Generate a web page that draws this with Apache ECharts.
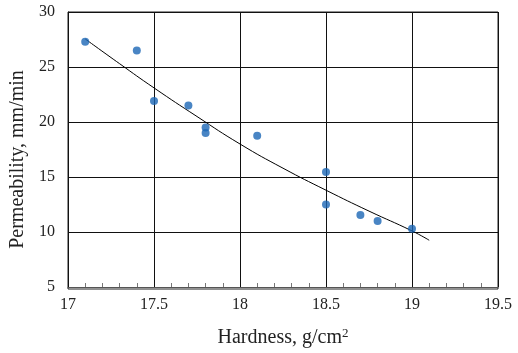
<!DOCTYPE html>
<html>
<head>
<meta charset="utf-8">
<script src="https://cdn.jsdelivr.net/npm/echarts@6/dist/echarts.min.js"></script>
<style>html,body{margin:0;padding:0;background:#fff}#c{width:518px;height:353px}</style>
</head>
<body>
<div id="c"></div>
<script>
var hardness = [17.1, 17.4, 17.5, 17.7, 17.8, 17.8, 18.1, 18.5, 18.5, 18.7, 18.8, 19.0];
var permeability = [27.3, 26.5, 21.9, 21.5, 19.5, 19.0, 18.75, 15.45, 12.5, 11.55, 11.0, 10.3];
var trendX = [17.1, 17.3, 17.5, 17.75, 18.0, 18.25, 18.5, 18.75, 19.0, 19.1];
var trendY = [27.55, 25.3, 23.1, 20.5, 18.0, 15.8, 13.8, 11.9, 10.1, 9.25];
var xTicks = [17, 17.5, 18, 18.5, 19, 19.5];
var yTicks = [5, 10, 15, 20, 25, 30];

var font = '"Liberation Serif", "Times New Roman", serif';
var chart = echarts.init(document.getElementById('c'), null, {renderer: 'canvas'});
chart.setOption({
  animation: false,
  backgroundColor: '#fff',
  grid: {left: 68, right: 20, top: 12, bottom: 64, containLabel: false},
  xAxis: {
    type: 'value', min: xTicks[0], max: xTicks[xTicks.length - 1], interval: 0.5,
    name: '{a|Hardness, g/cm}{s|2}', nameLocation: 'middle', nameGap: 40,
    nameTextStyle: {
      fontFamily: font, fontSize: 20, color: '#222',
      rich: {
        a: {fontFamily: font, fontSize: 20, color: '#222'},
        s: {fontFamily: font, fontSize: 13, color: '#222', padding: [0, 0, 9, 0]}
      }
    },
    axisLine: {show: true, lineStyle: {color: '#555', width: 1}},
    axisTick: {show: false},
    minorTick: {show: true, splitNumber: 5, length: -4, lineStyle: {color: '#777'}},
    splitLine: {show: true, lineStyle: {color: '#111', width: 1}},
    axisLabel: {fontFamily: font, fontSize: 16, color: '#222', margin: 10}
  },
  yAxis: {
    type: 'value', min: yTicks[0], max: yTicks[yTicks.length - 1], interval: 5,
    name: 'Permeability, mm/min', nameLocation: 'middle', nameGap: 29,
    nameTextStyle: {fontFamily: font, fontSize: 20, color: '#222', padding: [0, 20, 0, 0]},
    axisLine: {show: true, lineStyle: {color: '#111', width: 1}},
    axisTick: {show: false},
    splitLine: {show: true, lineStyle: {color: '#111', width: 1}},
    axisLabel: {fontFamily: font, fontSize: 16, color: '#222', margin: 13, padding: [4, 0, 0, 0]}
  },
  series: [
    {
      type: 'line', data: trendX.map(function (x, i) { return [x, trendY[i]]; }),
      smooth: true, showSymbol: false, symbol: 'none',
      lineStyle: {color: '#000', width: 1}, z: 3
    },
    {
      type: 'scatter', data: hardness.map(function (x, i) { return [x, permeability[i]]; }),
      symbolSize: 8, itemStyle: {color: '#1b66b5'}, z: 4
    }
  ],
  graphic: [{
    type: 'rect', shape: {x: 68, y: 12, width: 430, height: 277},
    style: {fill: 'none', stroke: '#222', lineWidth: 1}, silent: true, z: 0
  }]
});
</script>
</body>
</html>
